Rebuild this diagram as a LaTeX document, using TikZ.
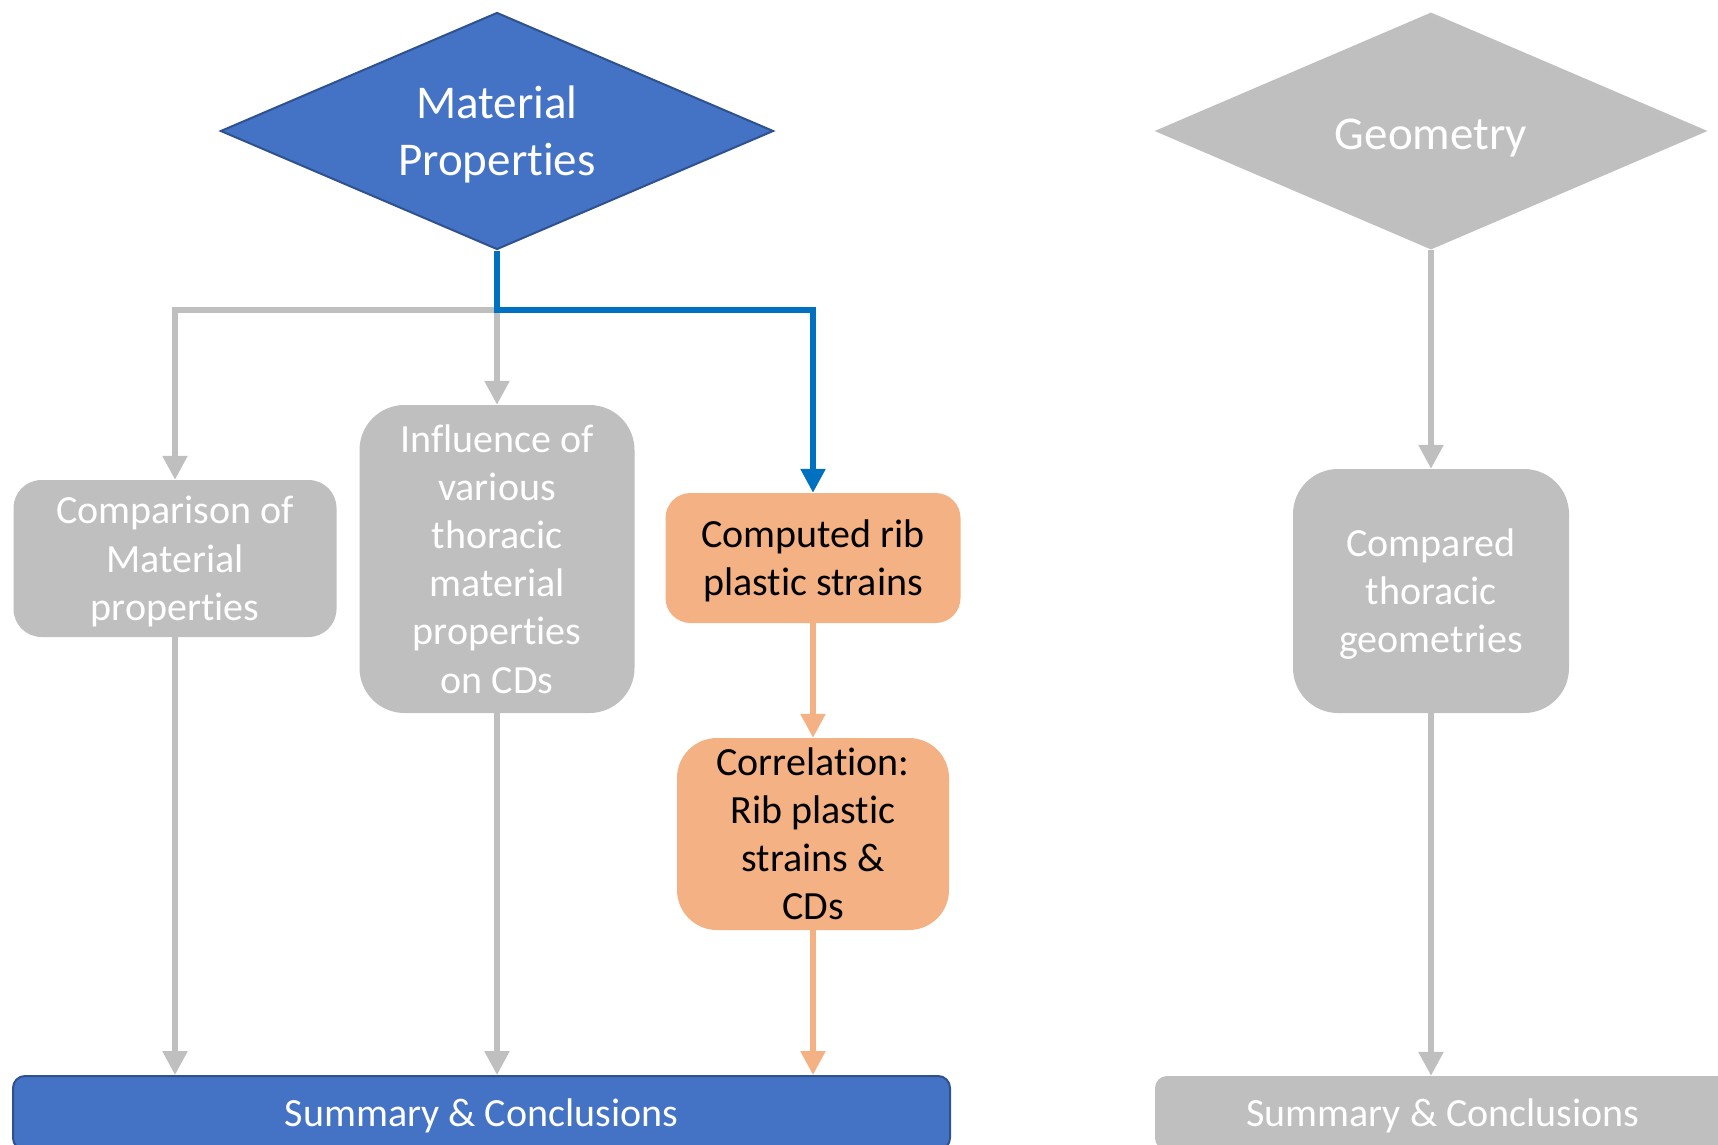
\documentclass[tikz,border=0pt]{standalone}
\usepackage{fontspec}
\setmainfont{Carlito}[Ligatures={NoCommon,NoRequired,NoContextual}]
\usetikzlibrary{shapes.geometric,arrows.meta}
\definecolor{mblue}{HTML}{4472C4}
\definecolor{mborder}{HTML}{2F528F}
\definecolor{lblue}{HTML}{0070C0}
\definecolor{mgray}{HTML}{BFBFBF}
\definecolor{morange}{HTML}{F4B183}
\newcommand\ls{\rule[-0.25em]{0pt}{1.18em}}
\newcommand\tiX{t\kern0pt i}
\begin{document}
\begin{tikzpicture}[x=1pt,y=-1pt,
  box/.style={rectangle, align=center, inner sep=0pt, font=\fontsize{40}{48.2}\selectfont},
  graybox/.style={box, fill=mgray, text=white},
  orangebox/.style={box, fill=morange, text=black},
  dia/.style={diamond, aspect=2.33, inner sep=0pt, minimum width=553pt, minimum height=237pt, align=center, font=\fontsize{47}{57}\selectfont, text=white},
  conn/.style={line width=5.5pt, -{Triangle[width=24pt,length=24pt]}},
  gconn/.style={conn, draw=mgray},
  bconn/.style={conn, draw=lblue},
  oconn/.style={conn, draw=morange},
]
\useasboundingbox (0,0) rectangle (1718,1145);
\clip (0,0) rectangle (1718,1145);

% diamonds
\node[dia, fill=mblue, draw=mborder, line width=2pt] (mat) at (497,131) {\ls Material\\\ls Proper\tiX es};
\node[dia, fill=mgray] (geo) at (1431,131) {\rule[-0.25em]{0pt}{1.27em}Geometry};

% boxes
\node[graybox, minimum width=323pt, minimum height=157pt, rounded corners=28pt] (cmp) at (175,558.5) {\ls Comparison of\\\ls Material\\\ls proper\tiX es};
\node[graybox, minimum width=275pt, minimum height=308pt, rounded corners=45pt] (infl) at (497,559) {\ls Influence of\\\ls various\\\ls thoracic\\\ls material\\\ls proper\tiX es\\\ls on CDs};
\node[orangebox, minimum width=295pt, minimum height=130pt, rounded corners=25pt] (comp) at (813,558) {\ls Computed rib\\\ls plas\tiX c strains};
\node[orangebox, minimum width=272pt, minimum height=192pt, rounded corners=40pt] (corr) at (813,834) {\ls Correla\tiX on:\\\ls Rib plas\tiX c\\\ls strains \&\\\ls CDs};
\node[graybox, minimum width=276pt, minimum height=244pt, rounded corners=45pt] (cpd) at (1431,591) {\ls Compared\\\ls thoracic\\\ls geometr\kern0pt ies};

% summaries
\node[box, fill=mblue, draw=mborder, line width=2pt, text=white, minimum width=937pt, minimum height=74pt, rounded corners=12pt] (sum1) at (481.5,1113) {\ls Summary \& Conclusions};
\node[box, fill=mgray, text=white, minimum width=576pt, minimum height=74pt, rounded corners=12pt] (sum2) at (1443,1113) {\ls Summary \& Conclusions};

% connectors
\coordinate (j) at (497,310);
\draw[gconn] (j) -| (cmp.north);
\draw[gconn] (j) -- (infl.north);
\draw[bconn] (mat.south) -- (j) -| (comp.north);
\draw[oconn] (comp.south) -- (corr.north);
\draw[oconn] (corr.south) -- (corr.south |- sum1.north);
\draw[gconn] (cmp.south) -- (cmp.south |- sum1.north);
\draw[gconn] (infl.south) -- (infl.south |- sum1.north);
\draw[gconn] (geo.south) -- (cpd.north);
\draw[gconn] (cpd.south) -- (cpd.south |- sum2.north);
\end{tikzpicture}
\end{document}
